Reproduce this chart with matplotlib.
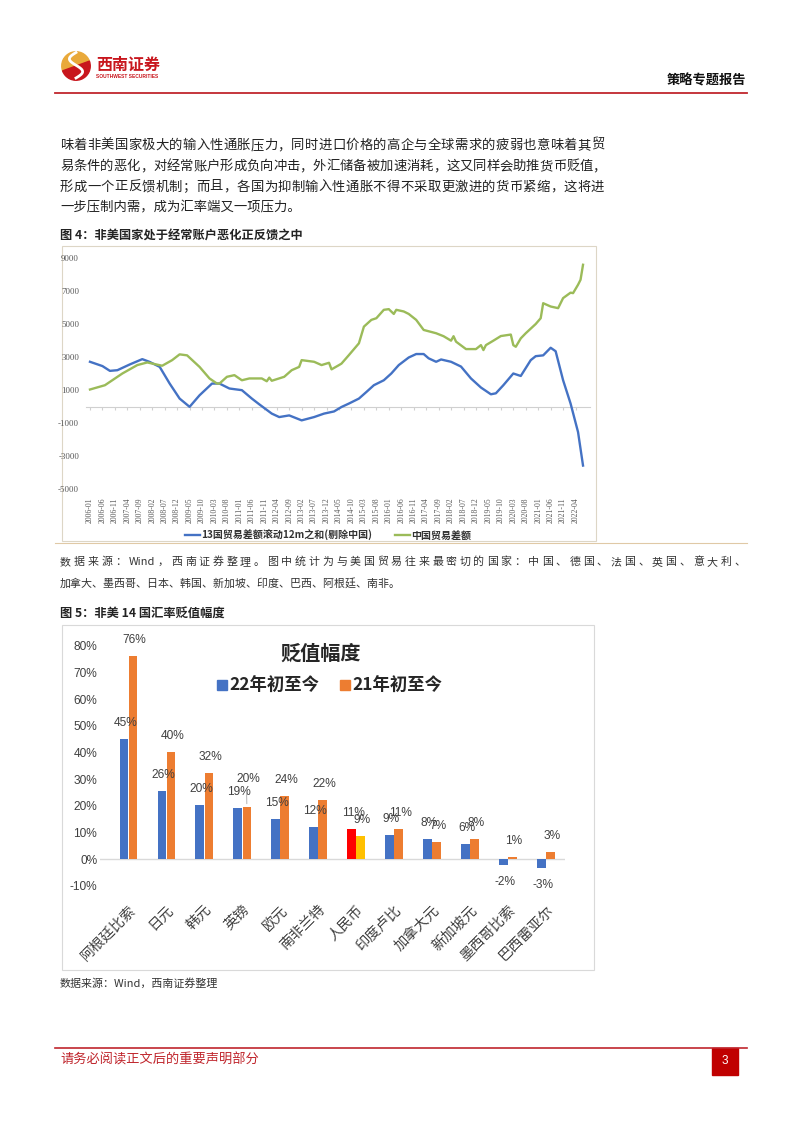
import matplotlib
matplotlib.use("Agg")
import matplotlib.pyplot as plt
from matplotlib.patches import Rectangle, Wedge, Patch
from matplotlib.lines import Line2D
from matplotlib.font_manager import FontProperties
import numpy as np

plt.rcParams['font.family'] = ['Noto Sans CJK SC', 'DejaVu Sans']

# ---------------- data: figure 4 (line chart) ----------------
blue_dates = ["2006-01", "2006-06", "2006-09", "2006-12", "2007-05", "2007-10", "2008-01", "2008-05",
              "2008-09", "2009-01", "2009-05", "2009-09", "2010-02", "2010-05", "2010-09", "2011-02",
              "2011-06", "2011-09", "2012-02", "2012-05", "2012-09", "2013-02", "2013-07", "2013-11",
              "2014-03", "2014-06", "2014-09", "2015-01", "2015-04", "2015-07", "2015-11", "2016-02",
              "2016-05", "2016-09", "2016-12", "2017-03", "2017-05", "2017-08", "2017-10", "2018-02",
              "2018-06", "2018-10", "2019-02", "2019-06", "2019-08", "2019-11", "2020-03", "2020-06",
              "2020-10", "2020-12", "2021-03", "2021-06", "2021-08", "2021-11", "2022-02", "2022-05",
              "2022-07"]
blue_vals = [2710, 2450, 2160, 2200, 2550, 2870, 2700, 2400,
             1390, 480, -20, 680, 1390, 1390, 1090, 990,
             480, 130, -430, -640, -540, -840, -640, -430,
             -300, -30, 180, 480, 880, 1290, 1590, 2000,
             2510, 2970, 3180, 3180, 2920, 2710, 2850, 2710,
             2420, 1700, 1150, 740, 800, 1290, 2000, 1850,
             2810, 3050, 3100, 3560, 3350, 1590, 180, -1550,
             -3580]

green_dates = ["2006-01", "2006-07", "2007-02", "2007-08", "2007-12", "2008-06", "2008-10", "2009-01",
               "2009-04", "2009-09", "2010-01", "2010-04", "2010-05", "2010-08", "2010-11", "2011-02",
               "2011-05", "2011-10", "2011-12", "2012-01", "2012-02", "2012-07", "2012-10", "2013-01",
               "2013-02", "2013-07", "2013-10", "2014-01", "2014-02", "2014-05", "2014-06", "2014-09",
               "2015-01", "2015-03", "2015-06", "2015-08", "2015-11", "2016-01", "2016-03", "2016-04",
               "2016-07", "2016-09", "2016-12", "2017-03", "2017-08", "2017-11", "2018-02", "2018-03",
               "2018-04", "2018-08", "2018-12", "2019-02", "2019-03", "2019-04", "2019-07", "2019-10",
               "2020-02", "2020-03", "2020-04", "2020-06", "2020-08", "2020-12", "2021-02", "2021-03",
               "2021-06", "2021-09", "2021-11", "2022-02", "2022-03", "2022-05", "2022-06", "2022-07"]
green_vals = [1030, 1290, 2000, 2510, 2670, 2470, 2810, 3160,
              3100, 2400, 1700, 1390, 1390, 1800, 1900, 1590,
              1700, 1700, 1530, 1750, 1560, 1800, 2200, 2400,
              2810, 2710, 2510, 2650, 2250, 2510, 2600, 3120,
              3830, 4840, 5250, 5350, 5860, 5900, 5610, 5860,
              5760, 5610, 5250, 4640, 4440, 4260, 3990, 4260,
              3930, 3480, 3480, 3720, 3420, 3720, 3990, 4270,
              4360, 3720, 3620, 4130, 4440, 5000, 5350, 6260,
              6060, 5960, 6570, 6900, 6870, 7380, 7680, 8590]

blue_name = "13国贸易差额滚动12m之和(剔除中国)"
green_name = "中国贸易差额"

# ---------------- data: figure 5 (bar chart) ----------------
currencies = ["阿根廷比索", "日元", "韩元", "英镑", "欧元", "南非兰特", "人民币",
              "印度卢比", "加拿大元", "新加坡元", "墨西哥比索", "巴西雷亚尔"]
ytd22 = [45.1, 25.8, 20.3, 19.1, 15.0, 12.0, 11.3, 9.1, 7.6, 5.6, -2.1, -3.3]
ytd21 = [76.2, 40.3, 32.3, 19.8, 23.8, 22.3, 8.8, 11.3, 6.6, 7.8, 0.8, 2.7]
series22 = "22年初至今"
series21 = "21年初至今"

W, H = 802, 1133
fig = plt.figure(figsize=(W / 100, H / 100), dpi=100)
renderer = fig.canvas.get_renderer()

def fx(x):
    return x / W

def fy(y):
    return 1 - y / H

RED = "#C0262D"
TXT = "#222222"
CJK = ['Noto Sans CJK SC', 'DejaVu Sans']

def tokens(s):
    out = []
    i = 0
    while i < len(s):
        if s[i].isascii() and s[i].isalpha():
            j = i
            while j < len(s) and s[j].isascii() and s[j].isalpha():
                j += 1
            out.append(s[i:j])
            i = j
        else:
            out.append(s[i])
            i += 1
    return out

def justified(s, x0, x1, y, size, color, weight='normal'):
    fp = FontProperties(family=CJK, size=size, weight=weight)
    toks = tokens(s)
    widths = [renderer.get_text_width_height_descent(t, fp, ismath=False)[0] for t in toks]
    extra = ((x1 - x0) - sum(widths)) / max(len(toks) - 1, 1)
    xpos = x0
    for t, w in zip(toks, widths):
        fig.text(fx(xpos), fy(y), t, fontproperties=fp, color=color, va='center')
        xpos += w + extra

# ---------------- header ----------------
la = fig.add_axes([fx(61), fy(81), 30 / W, 30 / H])
la.set_xlim(-1, 1); la.set_ylim(-1, 1); la.set_aspect('equal'); la.axis('off')
la.add_patch(Wedge((0, 0), 0.95, 20, 200, color="#E9A93A"))
la.add_patch(Wedge((0, 0), 0.95, 200, 380, color="#C8161D"))
t = np.linspace(-1, 1, 50)
la.plot(0.55 * np.sin(t * np.pi) * 0.8, -t * 0.85 + 0.05, color="white", lw=2.0)
fig.text(fx(96), fy(65), "西南证券", color="#C8161D", fontsize=11.5, fontweight='bold', va='center')
fig.text(fx(96), fy(76.5), "SOUTHWEST SECURITIES", color="#C8161D", fontsize=3.5, va='center',
         family=['Liberation Sans', 'DejaVu Sans'], fontweight='bold')
fig.text(fx(746), fy(80), "策略专题报告", color="#111111", fontsize=9.5, fontweight='bold',
         ha='right', va='center')
fig.add_artist(Line2D([fx(55), fx(747)], [fy(93), fy(93)], color=RED, lw=1.3))

# ---------------- body text ----------------
body = ["味着非美国家极大的输入性通胀压力，同时进口价格的高企与全球需求的疲弱也意味着其贸",
        "易条件的恶化，对经常账户形成负向冲击，外汇储备被加速消耗，这又同样会助推货币贬值，",
        "形成一个正反馈机制；而且，各国为抑制输入性通胀不得不采取更激进的货币紧缩，这将进",
        "一步压制内需，成为汇率端又一项压力。"]
body_y = [145, 166, 186.5, 207]
for i, line in enumerate(body):
    if i < 3:
        justified(line, 60, 604 if i != 1 else 606, body_y[i], 9.6, TXT)
    else:
        fig.text(fx(60), fy(body_y[i]), line, fontsize=9.6, color=TXT, va='center')

fig.text(fx(60), fy(236), "图 4：非美国家处于经常账户恶化正反馈之中", fontsize=8.8,
         fontweight='bold', color=TXT, va='center')

# ---------------- figure 4 frame ----------------
fig.add_artist(Rectangle((fx(62), fy(541)), (596 - 62) / W, (541 - 246) / H,
                         fill=False, ec="#DDD6C6", lw=0.8))

def month_index(d):
    y, m = d.split("-")
    return (int(y) - 2006) * 12 + int(m) - 1

ax1 = fig.add_axes([fx(86), fy(489), (590 - 86) / W, (489 - 258) / H])
bx = [month_index(d) for d in blue_dates]
gx = [month_index(d) for d in green_dates]
ax1.plot(bx, blue_vals, color="#4472C4", lw=1.7, label=blue_name, solid_joinstyle='round')
ax1.plot(gx, green_vals, color="#9BBB59", lw=1.7, label=green_name, solid_joinstyle='round')
ax1.set_xlim(-1.6, 200.8)
ax1.set_ylim(-5000, 9000)
ax1.set_yticks(np.arange(-5000, 9001, 2000))
ax1.set_yticklabels([f"{v}" for v in np.arange(-5000, 9001, 2000)],
                    family=['Liberation Serif', 'DejaVu Serif'])
tick_pos = list(range(0, 196, 5))
tick_lab = [f"{2006 + p // 12}-{p % 12 + 1:02d}" for p in tick_pos]
ax1.set_xticks(tick_pos)
ax1.set_xticklabels(tick_lab, rotation=90, family=['Liberation Serif', 'DejaVu Serif'])
ax1.tick_params(axis='x', length=0, labelsize=5.6, colors="#595959", pad=6)
ax1.tick_params(axis='y', length=0, labelsize=6.4, colors="#595959", pad=5)
for s in ax1.spines.values():
    s.set_visible(False)
sec = ax1.secondary_xaxis(5 / 14)
sec.set_xticks(tick_pos)
sec.set_xticklabels([])
sec.tick_params(length=2, color="#D0D0D0", direction='out')
sec.spines['bottom'].set_color("#D0D0D0")
sec.spines['bottom'].set_linewidth(0.8)
ax1.set_zorder(2)
leg = ax1.legend(loc='center', bbox_to_anchor=(fx(328), fy(535)), bbox_transform=fig.transFigure,
                 ncol=2, frameon=False, handlelength=1.5, columnspacing=2.2,
                 handletextpad=0.15, prop={'size': 7.2, 'weight': 'bold'})
for tx in leg.get_texts():
    tx.set_color("#333333")

# ---------------- source 4 ----------------
fig.add_artist(Line2D([fx(55), fx(747)], [fy(543), fy(543)], color="#E0C9A6", lw=0.8))
justified("数据来源：Wind，西南证券整理。图中统计为与美国贸易往来最密切的国家：中国、德国、法国、英国、意大利、",
          60, 745, 562, 7.9, "#333333")
fig.text(fx(60), fy(583), "加拿大、墨西哥、日本、韩国、新加坡、印度、巴西、阿根廷、南非。",
         fontsize=7.9, color="#333333", va='center')

fig.text(fx(60), fy(613), "图 5：非美 14 国汇率贬值幅度", fontsize=8.8, fontweight='bold',
         color=TXT, va='center')

# ---------------- figure 5 ----------------
fig.add_artist(Rectangle((fx(62), fy(970)), (594 - 62) / W, (970 - 625) / H,
                         fill=False, ec="#D9D9D9", lw=0.8))
ax2 = fig.add_axes([fx(100), fy(886), (565 - 100) / W, (886 - 646) / H])
x = np.arange(len(currencies))
bw = 0.23
c22 = ["#4472C4"] * len(currencies)
c21 = ["#ED7D31"] * len(currencies)
c22[6] = "#FF0000"
c21[6] = "#FFC000"
ax2.bar(x - 0.12, ytd22, bw, color=c22, zorder=3)
ax2.bar(x + 0.12, ytd21, bw, color=c21, zorder=3)
ax2.set_xlim(-0.75, 11.5)
ax2.set_ylim(-10, 80)
ax2.axhline(0, color="#D9D9D9", lw=1, zorder=1)
for s in ax2.spines.values():
    s.set_visible(False)
ax2.set_yticks(np.arange(-10, 81, 10))
ax2.set_yticklabels([f"{v}%" for v in range(-10, 81, 10)],
                    family=['Liberation Sans', 'DejaVu Sans'])
ax2.tick_params(axis='y', length=0, labelsize=8.6, colors="#404040", pad=2)
ax2.set_xticks(x)
ax2.set_xticklabels(currencies, rotation=45, ha='right', va='top', rotation_mode='anchor')
ax2.tick_params(axis='x', length=0, labelsize=10.3, colors="#404040", pad=12)

lab_font = ['Liberation Sans', 'DejaVu Sans']
for xi, v in zip(x, ytd22):
    off = 11.5 if v >= 0 else -12.5
    ax2.annotate(f"{v:.0f}%", (xi - 0.12, v), xytext=(1, off), textcoords='offset points',
                 ha='center', va='center', fontsize=8.6, color="#404040", family=lab_font)
for i, (xi, v) in enumerate(zip(x, ytd21)):
    off = 11.5 if v >= 0 else -12.5
    if i == 3:
        off = 20
        ax2.annotate("", (xi + 0.12, v), xytext=(xi + 0.11, v + 7.2),
                     arrowprops=dict(arrowstyle='-', color="#A6A6A6", lw=0.6))
    ax2.annotate(f"{v:.0f}%", (xi + 0.12, v), xytext=(1, off), textcoords='offset points',
                 ha='center', va='center', fontsize=8.6, color="#404040", family=lab_font)

fig.text(fx(321), fy(653), "贬值幅度", fontsize=14.5, fontweight='bold', color="#262626",
         ha='center', va='center')
handles = [Patch(color="#4472C4", label=series22), Patch(color="#ED7D31", label=series21)]
leg2 = ax2.legend(handles=handles, loc='center', bbox_to_anchor=(fx(330), fy(686)),
                  bbox_transform=fig.transFigure, ncol=2, frameon=False,
                  prop={'size': 12.5, 'weight': 'bold'}, handlelength=0.55, handleheight=0.55,
                  handletextpad=0.15, columnspacing=1.2)
for tx in leg2.get_texts():
    tx.set_color("#262626")

fig.text(fx(60), fy(983), "数据来源：Wind，西南证券整理", fontsize=7.9, color="#333333", va='center')

# ---------------- footer ----------------
fig.add_artist(Line2D([fx(55), fx(747)], [fy(1048), fy(1048)], color=RED, lw=1.2))
fig.text(fx(60), fy(1060), "请务必阅读正文后的重要声明部分", fontsize=9.5, color=RED, va='center')
fig.add_artist(Rectangle((fx(712), fy(1075)), 26 / W, 27 / H, color="#C00000"))
fig.text(fx(725), fy(1061.5), "3", fontsize=8.5, color="white", ha='center', va='center',
         family=['Liberation Sans', 'DejaVu Sans'])

fig.savefig("out.png", dpi=100, facecolor="white")
